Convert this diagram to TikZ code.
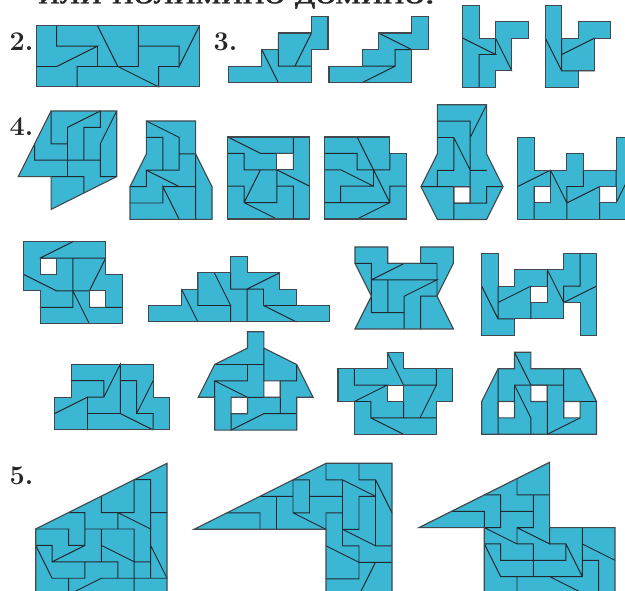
\documentclass[tikz,border=0pt]{standalone}
\usepackage{fontspec}
\newfontfamily\cyrserif[FakeStretch=1.45,FakeBold=1.2]{Liberation Serif}
\definecolor{tile}{HTML}{3BB6D3}
\definecolor{ink}{HTML}{20292F}
\tikzset{
  tilefill/.style={fill=tile,even odd rule},
  cutline/.style={draw=ink,line width=0.95pt,line join=miter,line cap=round},
  rim/.style={draw=ink!85!white,line width=1.15pt,line join=miter},
  numlabel/.style={anchor=base west,inner sep=0pt,font=\fontsize{27}{27}\selectfont\bfseries\addfontfeature{FakeBold=3,FakeStretch=0.88},text=black!85}
}
\newcommand\Fig[5][16.4pt]{\begin{scope}[shift={(#2,#3)},x=#1,y=-#1]
  \path[tilefill] #4;
  \draw[cutline] #5;
  \draw[rim] #4;
\end{scope}}
\begin{document}
\begin{tikzpicture}[x=1pt,y=-1pt]
\useasboundingbox (0,0) rectangle (625,591);
\clip (0,0) rectangle (625,591);
\fill[white] (0,0) rectangle (625,591);
% cropped heading
\node[anchor=base west,inner sep=0pt,text=black!85] (head) at (38,3.3) {\cyrserif\fontsize{28}{28}\selectfont или полимино домино.};
\node[numlabel] (n2) at (9.5,50.5) {2.};
\node[numlabel] (n3) at (213.5,50.5) {3.};
\node[numlabel] (n4) at (9.5,135.5) {4.};
\node[numlabel] (n5) at (9.5,484) {5.};

% --- 2
\Fig[20.4pt]{36.3}{25.7}{(0,0)--(8,0)--(8,3)--(0,3)--cycle}
{(1,0)--(1,1)--(3,1)--(1,2)--(0,2) (3,0)--(4,2) (2,3)--(2,2)--(5,2)--(5,0) (3,1)--(3,2)
 (4,2)--(6,3)--(6,2)--(7,2) (5,1)--(7,1)--(7,2)--(8,0)}

% --- 3
\Fig[16.55pt]{228.7}{16.5}{(0,3)--(2,3)--(2,2)--(3,2)--(3,1)--(5,1)--(5,0)--(6,0)--(6,2)--(5,2)--(5,4)--(0,4)--cycle}
{(2,2)--(3,4) (3,1)--(3,3)--(5,3) (4,3)--(5,1)}
\Fig[16.55pt]{329}{16.5}{(0,3)--(2,3)--(2,2)--(3,2)--(3,1)--(5,1)--(5,0)--(6,0)--(6,2)--(5,2)--(5,4)--(0,4)--cycle}
{(3,1)--(5,2) (2,3)--(4,3)--(4,2)--(5,2) (2,4)--(4,3)}
\Fig{462.7}{5.3}{(0,0)--(1,0)--(1,2)--(2,2)--(2,1)--(4,1)--(4,2)--(3,2)--(3,4)--(2,4)--(2,5)--(0,5)--cycle}
{(0,2)--(2,3)--(1,3)--(1,5) (2,2)--(3,4) (2,2)--(2,3)}
\Fig{545.3}{5.3}{(0,0)--(1,0)--(1,2)--(2,2)--(2,1)--(4,1)--(4,2)--(3,2)--(3,4)--(2,4)--(2,5)--(0,5)--cycle}
{(0,2)--(1,4)--(3,4) (1,2)--(1,4) (1,3)--(3,2)}

% --- 4 row 1
\Fig{18.3}{111}{(2,0)--(6,0)--(6,4)--(2,6)--(2,4)--(0,4)--cycle}
{(2,0)--(2,2)--(3,2) (3,4)--(3,1)--(5,0)--(5,1)--(4,1)--(4,3) (1,2)--(1,3)--(5,3)
 (5,4)--(5,2)--(6,0) (5,4)--(6,4) (2,4)--(4,4)--(4,5)}
\Fig{130}{121}{(1,0)--(4,0)--(4,2)--(5,4)--(5,6)--(0,6)--(0,4)--(1,2)--cycle}
{(1,0)--(3,1)--(3,3) (1,1)--(2,1)--(2,3) (1,3)--(3,3) (1,3)--(1,4)--(0,4) (1,3)--(3,4)
 (3,2)--(4,2)--(4,6) (2,4)--(4,4) (0,5)--(2,5)--(2,4)--(3,6)}
\Fig{227.7}{137}{(0,0)--(5,0)--(5,5)--(0,5)--cycle (3,1)--(4,1)--(4,2)--(3,2)--cycle}
{(0,0)--(2,1)--(4,1) (4,0)--(4,2) (0,1)--(1,1)--(1,2)--(3,2)--(3,4)--(1,4) (3,2)--(5,3)
 (2,2)--(1,4) (0,3)--(1,3)--(1,4)--(3,5) (3,3)--(4,3)--(4,5)}
\Fig{324.3}{137}{(0,0)--(4,0)--(4,1)--(5,1)--(5,5)--(0,5)--cycle}
{(2,0)--(4,4) (0,1)--(2,1)--(2,2)--(4,2)--(4,1) (0,2)--(1,2)--(3,3)--(3,2) (3,3)--(1,3)--(1,4)
 (0,4)--(4,4)--(4,3)--(5,3) (2,5)--(4,4)}
\Fig{421}{104.7}{(1,0)--(4,0)--(4,3)--(5,5)--(4,7)--(1,7)--(0,5)--(1,3)--cycle (2,5)--(3,5)--(3,6)--(2,6)--cycle}
{(1,1)--(3,1)--(3,6) (4,0)--(3,2) (1,2)--(2,2)--(2,4)--(1,4)--(1,5) (2,2)--(3,4)--(4,4)
 (0,5)--(3,5) (2,5)--(2,7) (2,6)--(4,6)--(4,5)--(5,5)}
\Fig{517.7}{137.3}{(0,0)--(1,0)--(1,2)--(3,2)--(3,1)--(4,1)--(4,2)--(6,2)--(6,0)--(7,0)--(7,5)--(0,5)--cycle (1,3)--(2,3)--(2,4)--(1,4)--cycle (5,3)--(6,3)--(6,4)--(5,4)--cycle}
{(0,3)--(2,2)--(3,4) (2,2)--(2,4) (1,3)--(1,5) (3,5)--(3,3)--(4,3)--(4,2) (3,4)--(5,3)--(5,5)
 (6,4)--(7,2) (6,2)--(6,3)}

% --- 4 row 2
\Fig{23.7}{241.7}{(0,0)--(5,0)--(5,2)--(6,2)--(6,5)--(1,5)--(1,3)--(0,3)--cycle (1,1)--(2,1)--(2,2)--(1,2)--cycle (4,3)--(5,3)--(5,4)--(4,4)--cycle}
{(1,1)--(3,0) (1,1)--(5,1)--(4,3) (3,1)--(3,4)--(1,4) (0,2)--(2,3)--(4,3) (3,3)--(4,5) (4,4)--(6,4)}
\Fig{148.7}{256.3}{(0,3)--(2,3)--(2,2)--(3,2)--(3,1)--(5,1)--(5,0)--(6,0)--(6,1)--(8,1)--(8,2)--(9,2)--(9,3)--(11,3)--(11,4)--(0,4)--cycle}
{(2,2)--(3,4) (3,1)--(3,3)--(5,3)--(5,4) (4,1)--(5,3) (5,1)--(5,2)--(7,2)--(7,3)--(9,3) (6,2)--(6,4)
 (6,2)--(8,1) (7,3)--(9,4)}
\Fig{355}{247}{(0,0)--(2,0)--(2,1)--(4,1)--(4,0)--(6,0)--(6,1)--(5,3)--(6,5)--(0,5)--(1,3)--(0,1)--cycle}
{(0,1)--(1,1)--(1,4)--(3,4) (1,2)--(3,1) (2,1)--(5,1)--(5,3) (1,2)--(5,2)--(3,3)--(3,5) (2,2)--(2,4)
 (5,3)--(4,3)--(4,5)}
\Fig{481.7}{253.3}{(0,0)--(1,0)--(1,2)--(2,2)--(2,1)--(5,1)--(5,0)--(7,0)--(7,5)--(6,5)--(6,3)--(5,3)--(5,4)--(2,4)--(2,5)--(0,5)--cycle (3,2)--(4,2)--(4,3)--(3,3)--cycle}
{(0,2)--(1,4)--(2,4) (1,2)--(1,4) (1,3)--(3,2) (3,3)--(3,4) (4,1)--(4,2) (4,1)--(5,3)--(5,2)--(6,2)--(6,0)
 (5,3)--(7,2)}

% --- 4 row 3
\Fig{54.7}{364.3}{(1,0)--(6,0)--(6,2)--(7,2)--(7,4)--(0,4)--(0,2)--(1,2)--cycle}
{(1,1)--(3,1)--(3,2)--(2,2) (3,2)--(4,0)--(4,3)--(6,4) (0,3)--(2,2)--(2,4) (2,3)--(4,3)
 (4,1)--(5,1)--(5,3)--(6,3)--(6,4) (6,1)--(5,3)}
\Fig{198.3}{331.7}{(3,0)--(4,0)--(4,1)--(6,2)--(7,4)--(6,4)--(6,6)--(1,6)--(1,4)--(0,4)--(1,2)--(3,1)--cycle (4,3)--(5,3)--(5,4)--(4,4)--cycle (2,4)--(3,4)--(3,5)--(2,5)--cycle}
{(1,2)--(4,2) (4,1)--(4,3) (3,2)--(3,3)--(1,3)--(1,4) (1,3)--(3,4) (5,3)--(6,3)--(6,2) (5,3)--(5,5)
 (3,4)--(4,4) (2,5)--(2,6) (2,6)--(4,5)--(6,5)}
\Fig{338}{352.3}{(3,0)--(4,0)--(4,1)--(7,1)--(7,3)--(6,3)--(6,5)--(1,5)--(1,3)--(0,3)--(0,1)--(3,1)--cycle (3,2)--(4,2)--(4,3)--(3,3)--cycle}
{(1,1)--(1,2)--(3,2)--(1,3)--(2,3)--(2,4)--(6,4) (3,0)--(4,2)--(6,2)--(6,1) (6,2)--(5,4) (4,3)--(4,4) (2,4)--(4,5)}
\Fig{481.7}{352.3}{(2,0)--(3,0)--(3,1)--(6,1)--(7,3)--(7,5)--(0,5)--(0,3)--(1,1)--(2,1)--cycle (1,3)--(2,3)--(2,4)--(1,4)--cycle (3,2)--(4,2)--(4,3)--(3,3)--cycle (5,3)--(6,3)--(6,4)--(5,4)--cycle}
{(2,0)--(3,2) (1,1)--(1,5) (2,4)--(2,2)--(5,2) (2,2)--(3,4)--(3,5) (4,2)--(4,5) (5,1)--(5,4) (6,3)--(7,3) (4,5)--(6,4)}

% --- 5
\Fig[16.42pt]{35.7}{463.3}{(8,0)--(0,4)--(0,10)--(8,10)--cycle}
{(6,3)--(6,1)--(7,1)--(7,7) (4,2)--(4,3)--(6,3) (2,3)--(3,3)--(3,5)--(2,5)--(2,4) (0,4)--(2,4)
 (3,4)--(6,4)--(6,6)--(7,6) (5,3)--(5,4) (5,3)--(7,4) (7,3)--(8,3) (4,4)--(4,6) (4,5)--(6,6)
 (0,5)--(1,5)--(1,6)--(5,6)--(5,7) (1,6)--(3,5) (0,5)--(1,7)--(3,7)--(3,6) (7,5)--(8,7)
 (6,6)--(6,8) (4,7)--(8,7) (2,8)--(4,7) (2,7)--(2,8)}
\Fig[16.5pt]{194}{463.3}{(8,0)--(12,0)--(12,10)--(8,10)--(8,4)--(0,4)--cycle}
{(8,0)--(8,1)--(9,1)--(11,2) (9,1)--(9,4) (10,0)--(10,1)--(11,1)--(11,5)--(12,5) (11,1)--(12,3)
 (6,2)--(6,1)--(7,1)--(7,3)--(6,3)--(6,2) (2,3)--(4,3)--(4,4) (4,2)--(6,2) (5,2)--(5,4) (7,2)--(9,2)
 (6,3)--(8,4)--(8,3)--(9,3) (10,2)--(11,2) (10,2)--(10,4)--(9,4)--(9,5)--(10,5)--(10,7)--(8,7)
 (9,4)--(11,5) (8,5)--(10,6)--(12,6) (11,6)--(10,8)}
\Fig[16.33pt]{419}{462.3}{(8,0)--(8,4)--(12,4)--(12,10)--(4,10)--(4,4)--(0,4)--cycle}
{(6,1)--(6,2)--(8,2) (7,2)--(7,4)--(6,4) (4,2)--(5,2)--(5,4)--(4,4) (2,3)--(4,3)--(4,4)
 (5,3)--(7,3) (4,4)--(6,5)--(7,5) (6,4)--(6,5) (6,4)--(8,5)--(8,4)
 (8,5)--(9,5)--(9,6)--(5,6)--(5,5)--(4,5) (7,5)--(7,7) (4,5)--(5,7)--(10,7) (9,5)--(10,7)
 (10,4)--(10,7) (10,5)--(12,6) (10,6)--(11,6)--(11,8) (6,7)--(6,8) (8,7)--(10,8)}
\end{tikzpicture}
\end{document}
